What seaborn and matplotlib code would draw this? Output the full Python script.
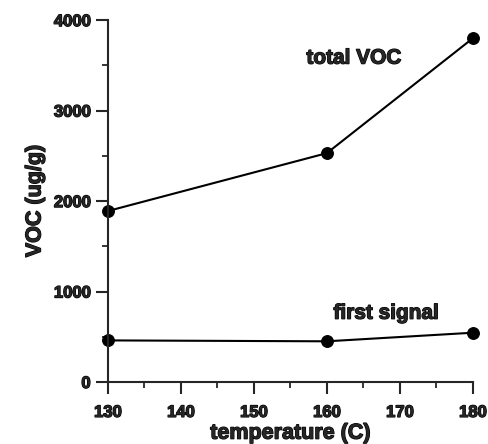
import matplotlib
matplotlib.use("Agg")
import matplotlib.pyplot as plt
import matplotlib.patheffects as pe
from matplotlib.ticker import MultipleLocator
import seaborn as sns
import pandas as pd

temperature = [130, 160, 180]
total_voc = [1890, 2530, 3800]
first_signal = [460, 450, 545]
series_names = ["total VOC", "first signal"]

sns.set_style("ticks")
plt.rcParams['font.family'] = ['Liberation Sans', 'DejaVu Sans']

df = pd.DataFrame({
    "temperature": temperature * 2,
    "VOC": total_voc + first_signal,
    "series": [series_names[0]] * 3 + [series_names[1]] * 3,
})

heavy = [pe.withStroke(linewidth=0.9, foreground="black")]

fig = plt.figure(figsize=(4.88, 4.44), dpi=100)
ax = fig.add_axes([0.221, 0.1396, 0.748, 0.815])
sns.lineplot(data=df, x="temperature", y="VOC", units="series", estimator=None,
             color="black", marker="o", markersize=8.5, linewidth=1.5,
             markeredgecolor="black", ax=ax, legend=False, clip_on=False)

ax.set_xlim(130, 180)
ax.set_ylim(0, 4000)
ax.xaxis.set_major_locator(MultipleLocator(10))
ax.xaxis.set_minor_locator(MultipleLocator(5))
ax.yaxis.set_major_locator(MultipleLocator(1000))
ax.yaxis.set_minor_locator(MultipleLocator(500))
for s in ["top", "right"]:
    ax.spines[s].set_visible(False)
for s in ["left", "bottom"]:
    ax.spines[s].set_linewidth(1.5)
ax.tick_params(which="major", length=8.5, width=1.5, labelsize=12)
ax.tick_params(axis="x", which="major", pad=8)
ax.tick_params(axis="y", which="major", pad=4)
ax.tick_params(which="minor", length=4, width=1.3)
for lab in ax.get_xticklabels() + ax.get_yticklabels():
    lab.set_fontweight("bold")
    lab.set_path_effects(heavy)
ax.set_xlabel("temperature (C)", fontsize=15.5, fontweight="bold", labelpad=2,
              path_effects=heavy)
ax.set_ylabel("VOC (ug/g)", fontsize=15.5, fontweight="bold", labelpad=6,
              path_effects=heavy)

ax.text(157.2, 3580, series_names[0], fontsize=15, fontweight="bold",
        va="center", ha="left", path_effects=heavy)
ax.text(160.9, 760, series_names[1], fontsize=15, fontweight="bold",
        va="center", ha="left", path_effects=heavy)

fig.savefig("out.png", dpi=100)
